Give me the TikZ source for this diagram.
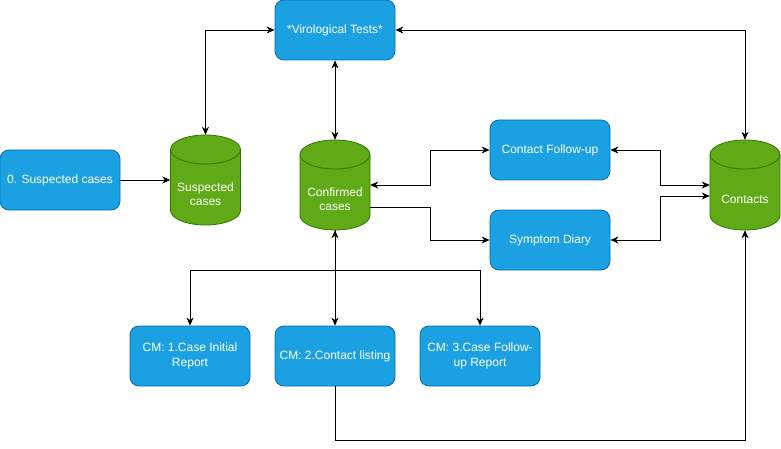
\documentclass[tikz,border=0pt]{standalone}
\usepackage{fontspec}
\setmainfont{Liberation Sans}
\usetikzlibrary{arrows.meta}
\definecolor{bluefill}{HTML}{1BA1E2}
\definecolor{bluestroke}{HTML}{006EAF}
\definecolor{greenfill}{HTML}{60A917}
\definecolor{greenstroke}{HTML}{2D7600}
\tikzset{
  box/.style={draw=bluestroke, fill=bluefill, rounded corners=9pt, minimum width=120pt, minimum height=60pt,
    inner sep=2pt, text=white, align=center, font=\fontsize{12}{14.5}\selectfont, line width=0.8pt},
  cylshape/.style={draw=greenstroke, fill=greenfill, line width=0.8pt},
  cylbox/.style={minimum width=70pt, minimum height=90pt, inner sep=0pt},
  cyltext/.style={text=white, align=center, font=\fontsize{12}{14.5}\selectfont, inner sep=0pt},
  conn/.style={line width=0.9pt, -{Stealth[length=8pt,width=7pt,inset=2.5pt]}},
  conn2/.style={line width=0.9pt, {Stealth[length=8pt,width=7pt,inset=2.5pt]}-{Stealth[length=8pt,width=7pt,inset=2.5pt]}},
}
% name, cx, cy (pixels from top), text
\newcommand\mycyl[4]{%
  \filldraw[cylshape] (#2-35,-#3+30.5) -- (#2-35,-#3-30.5)
    arc[start angle=180,end angle=360,x radius=35,y radius=14.5]
    -- (#2+35,-#3+30.5)
    arc[start angle=0,end angle=180,x radius=35,y radius=14.5] -- cycle;
  \draw[cylshape, fill=none] (#2-35,-#3+30.5) arc[start angle=180,end angle=360,x radius=35,y radius=14.5];
  \node[cylbox] (#1) at (#2,-#3) {};
  \node[cyltext] (#1-t) at (#2,-#3-14) {#4};
}
\begin{document}
\begin{tikzpicture}[x=1pt,y=1pt]
\useasboundingbox (0,0) rectangle (781,-449);

\node[box] (sb) at (60,-180) {0. Suspected cases};
\node[box] (vt) at (335,-30) {*Virological Tests*};
\node[box] (cfu) at (550,-150) {Contact Follow-up};
\node[box] (sd) at (550,-240) {Symptom Diary};
\node[box] (cm1) at (190,-356) {CM: 1.Case Initial\\Report};
\node[box] (cm2) at (335,-356) {CM: 2.Contact listing};
\node[box] (cm3) at (480,-356) {CM: 3.Case Follow-\\up Report};

\mycyl{sc}{205.5}{180}{Suspected\\cases}
\mycyl{cc}{335}{185}{Confirmed\\cases}
\mycyl{ct}{745}{185}{Contacts}

\draw[conn] (sb.east) -- (sc.west);
\draw[conn2] (vt.west) -| (sc.north);
\draw[conn2] (vt.south) -- (cc.north);
\draw[conn2] (vt.east) -| (ct.north);
\draw[conn2] (cc.east) -- ++(60,0) |- (cfu.west);
\draw[conn] ([yshift=-22pt]cc.east) -- ++(60,0) |- (sd.west);
\draw[conn2] (cfu.east) -- ++(50,0) |- (ct.west);
\draw[conn2] (sd.east) -- ++(50,0) |- ([yshift=-11pt]ct.west);
\draw[conn2] (cc.south) -- (cm2.north);
\draw[conn] (cc.south) -- ++(0,-40) -| (cm1.north);
\draw[conn] (cc.south) -- ++(0,-40) -| (cm3.north);
\draw[conn] (cm2.south) -- ++(0,-54) -| (ct.south);
\end{tikzpicture}
\end{document}
